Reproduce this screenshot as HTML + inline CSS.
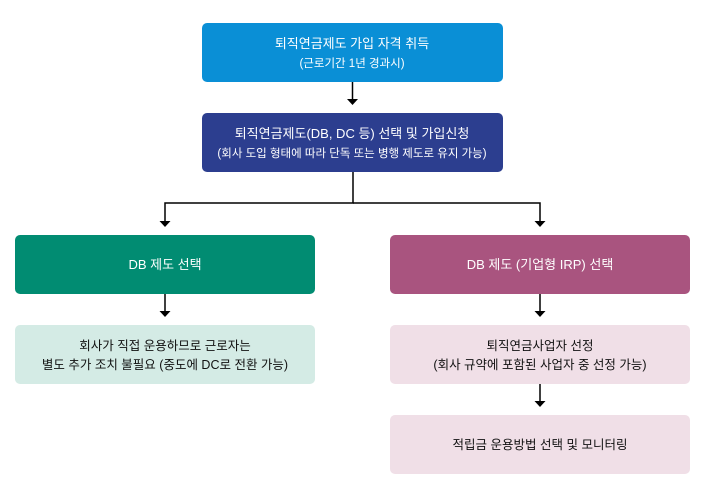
<!DOCTYPE html>
<html><head><meta charset="utf-8"><style>
body{margin:0;background:#fff;}
text{font-family:"Liberation Sans","Noto Sans CJK KR",sans-serif;text-anchor:middle;}
</style></head><body>
<svg width="708" height="492" xmlns="http://www.w3.org/2000/svg">
<rect x="202" y="23" width="301" height="59" rx="5" fill="#0a8fd6"/>
<text x="352" y="48" font-size="13" fill="#fff">퇴직연금제도 가입 자격 취득</text>
<text x="352" y="67" font-size="11.5" fill="#fff">(근로기간 1년 경과시)</text>
<line x1="352.5" y1="82" x2="352.5" y2="100" stroke="#000" stroke-width="1.5"/>
<polygon points="347,99 358,99 352.5,105" fill="#000"/>
<rect x="202" y="113" width="301" height="59" rx="5" fill="#2c3e8f"/>
<text x="352" y="138" font-size="13" fill="#fff">퇴직연금제도(DB, DC 등) 선택 및 가입신청</text>
<text x="352" y="157" font-size="11.5" fill="#fff">(회사 도입 형태에 따라 단독 또는 병행 제도로 유지 가능)</text>
<polyline points="353,172 353,203 165,203 165,222" fill="none" stroke="#000" stroke-width="1.5"/>
<polyline points="353,203 540,203 540,222" fill="none" stroke="#000" stroke-width="1.5"/>
<polygon points="159.5,221 170.5,221 165,227" fill="#000"/>
<polygon points="534.5,221 545.5,221 540,227" fill="#000"/>
<rect x="15" y="235" width="300" height="59" rx="5" fill="#018c72"/>
<text x="165" y="269" font-size="13" fill="#fff">DB 제도 선택</text>
<rect x="390" y="235" width="300" height="59" rx="5" fill="#a9547f"/>
<text x="540" y="269" font-size="13" fill="#fff">DB 제도 (기업형 IRP) 선택</text>
<line x1="165" y1="294" x2="165" y2="312" stroke="#000" stroke-width="1.5"/>
<polygon points="159.5,311 170.5,311 165,317" fill="#000"/>
<line x1="540" y1="294" x2="540" y2="312" stroke="#000" stroke-width="1.5"/>
<polygon points="534.5,311 545.5,311 540,317" fill="#000"/>
<rect x="15" y="325" width="300" height="59" rx="5" fill="#d4ebe5"/>
<text x="165" y="350" font-size="12.5" fill="#111">회사가 직접 운용하므로 근로자는</text>
<text x="165" y="369" font-size="12.5" fill="#111">별도 추가 조치 불필요 (중도에 DC로 전환 가능)</text>
<rect x="390" y="325" width="300" height="59" rx="5" fill="#f0dfe7"/>
<text x="540" y="350" font-size="12.5" fill="#111">퇴직연금사업자 선정</text>
<text x="540" y="369" font-size="12.5" fill="#111">(회사 규약에 포함된 사업자 중 선정 가능)</text>
<line x1="540" y1="384" x2="540" y2="402" stroke="#000" stroke-width="1.5"/>
<polygon points="534.5,401 545.5,401 540,407" fill="#000"/>
<rect x="390" y="415" width="300" height="59" rx="5" fill="#f0dfe7"/>
<text x="540" y="449" font-size="12.5" fill="#111">적립금 운용방법 선택 및 모니터링</text>
</svg>
</body></html>
